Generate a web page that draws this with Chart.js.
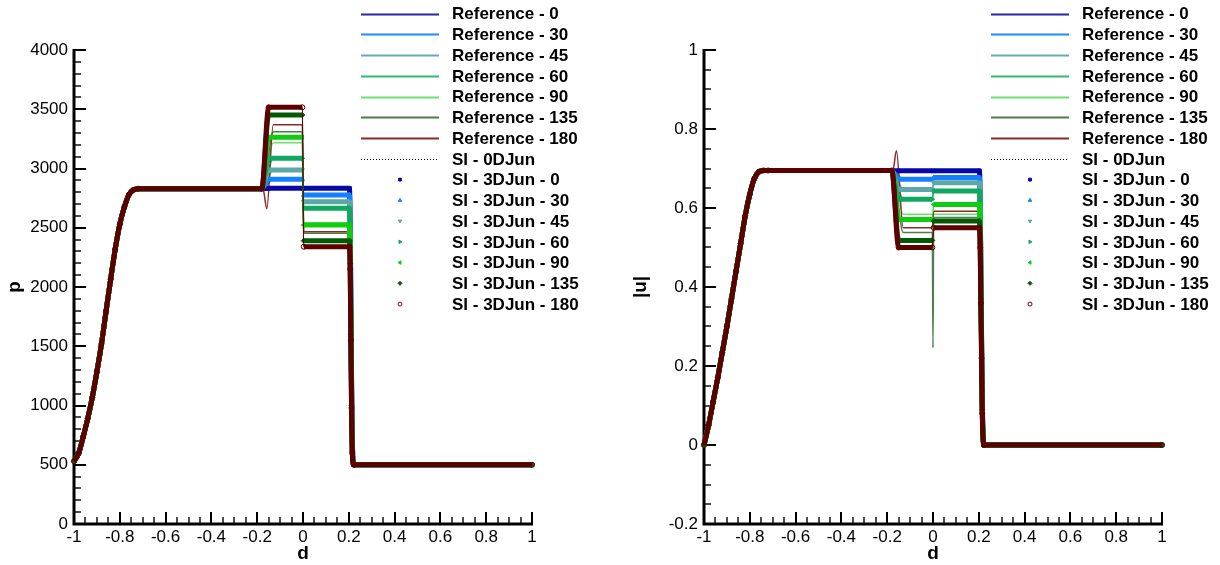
<!DOCTYPE html>
<html>
<head>
<meta charset="utf-8">
<script src="https://cdn.jsdelivr.net/npm/chart.js@4/dist/chart.umd.min.js"></script>
<style>
  html, body { margin: 0; padding: 0; background: #fff; }
  #wrap { position: relative; width: 1220px; height: 565px; }
  canvas { position: absolute; top: 0; }
</style>
</head>
<body>
<div id="wrap">
  <canvas id="chartP" width="610" height="565" style="left:0"></canvas>
  <canvas id="chartU" width="610" height="565" style="left:610px"></canvas>
</div>
<script>
const angles = ['0', '30', '45', '60', '90', '135', '180'];

// rarefaction ramp shared by every run
const rampD = [-1, -0.98, -0.96, -0.94, -0.92, -0.9, -0.88, -0.86, -0.84, -0.82, -0.8, -0.78, -0.76, -0.74, -0.72];
const rampP = [530, 595, 735, 890, 1070, 1285, 1520, 1795, 2065, 2320, 2530, 2675, 2780, 2820, 2830];
const rampU = [0, 0.05, 0.11, 0.17, 0.235, 0.3, 0.37, 0.44, 0.51, 0.58, 0.635, 0.675, 0.692, 0.695, 0.695];

// left / right states
const stateP = [2830, 500];
const stateU = [0.695, 0];

// step geometry: plateau end, level A start, A end, B start, B end
const siStepD = [-0.18, -0.15, -0.003, 0.003, 0.203];
const refStepD = [-0.175, -0.13, -0.003, 0.003, 0.195];
const dropD = [0.206, 0.209, 0.212, 0.215];
const tailD = [0.222, 1];

// SI - 3DJun levels (A: -0.15 < d < 0, B: 0 < d < 0.2)
const siP_A = [2833, 2909, 2987, 3086, 3263, 3451, 3516];
const siP_B = [2833, 2776, 2720, 2664, 2523, 2391, 2340];
const siU_A = [0.694, 0.673, 0.647, 0.622, 0.571, 0.518, 0.5];
const siU_B = [0.694, 0.677, 0.664, 0.643, 0.609, 0.567, 0.55];

// reference levels
const refP_A = [2833, 2909, 2987, 3086, 3218, 3310, 3370];
const refP_B = [2833, 2776, 2720, 2664, 2543, 2453, 2467];
const refU_A = [0.694, 0.673, 0.647, 0.622, 0.584, 0.538, 0.55];
const refU_B = [0.694, 0.677, 0.664, 0.643, 0.584, 0.576, 0.592];

// points along the smeared shock
const siP_drop = [
  [2550, 1900, 1250, 750], [2500, 1850, 1200, 720], [2450, 1800, 1150, 700], [2400, 1750, 1100, 680],
  [2300, 1650, 1050, 650], [2200, 1600, 1000, 620], [2150, 1550, 980, 600]
];
const siU_drop = [
  [0.62, 0.45, 0.28, 0.12], [0.61, 0.44, 0.27, 0.11], [0.6, 0.43, 0.27, 0.11], [0.58, 0.42, 0.26, 0.1],
  [0.55, 0.4, 0.25, 0.1], [0.51, 0.37, 0.23, 0.09], [0.5, 0.36, 0.22, 0.08]
];

// odd features of the reference curves
const ref180P_dip = [[-0.158, 2660]];
const ref180U_bump = [[-0.16, 0.745]];
const ref135U_spike = [[0, 0.246]];

const refColors = ['#2626a6', '#1e8cff', '#66adad', '#36b86a', '#6ee06e', '#4d7d4d', '#8a2a2a'];
const siColors = ['#0808a8', '#1480ff', '#5aa8a8', '#10a860', '#10cc10', '#045a04', '#5c0000'];
const siStyles = ['rect', 'triangle', 'triangle', 'triangle', 'triangle', 'rectRot', 'circle'];
const siRot = [0, 0, 180, 90, 270, 0, 0];

Chart.defaults.font.family = '"Liberation Sans", Arial, Helvetica, sans-serif';
Chart.defaults.font.size = 17;
Chart.defaults.color = '#000';

function series(rampY, state, stepD, a, b, drop, extra) {
  const pts = rampD.map((d, i) => ({ x: d, y: rampY[i] }));
  const stepY = [state[0], a, a, b, b];
  stepD.forEach((d, i) => pts.push({ x: d, y: stepY[i] }));
  if (drop) dropD.forEach((d, i) => pts.push({ x: d, y: drop[i] }));
  tailD.forEach(d => pts.push({ x: d, y: state[1] }));
  if (extra) extra.forEach(([x, y]) => pts.push({ x, y }));
  return pts.sort((p, q) => p.x - q.x);
}

// the jump at d = 0 is a single cell: keep it hairline, not a thick bar
const siSegmentWidth = c => (c.p1.parsed.x - c.p0.parsed.x < 0.01 && c.p0.parsed.x < 0.1) ? 1 : 5;

function buildDatasets(rampY, state, refA, refB, siA, siB, siDrop, refExtra) {
  const sets = [];
  angles.forEach((ang, i) => {
    sets.push({
      label: 'Reference - ' + ang, kind: 'ref',
      data: series(rampY, state, refStepD, refA[i], refB[i], null, refExtra[i]),
      borderColor: refColors[i], borderWidth: 1.5, pointRadius: 0
    });
  });
  sets.push({
    label: 'SI - 0DJun', kind: 'dot',
    data: series(rampY, state, refStepD, refA[0], refB[0], null, null),
    borderColor: '#000', borderWidth: 1, borderDash: [1, 2], pointRadius: 0
  });
  angles.forEach((ang, i) => {
    sets.push({
      label: 'SI - 3DJun - ' + ang, kind: 'si',
      data: series(rampY, state, siStepD, siA[i], siB[i], siDrop[i], null),
      borderColor: siColors[i], borderWidth: 5,
      segment: { borderWidth: siSegmentWidth },
      pointStyle: siStyles[i], pointRotation: siRot[i], pointRadius: 2.5, pointBorderWidth: 1,
      pointBorderColor: siColors[i],
      pointBackgroundColor: siStyles[i] === 'circle' ? 'rgba(0,0,0,0)' : siColors[i]
    });
  });
  const n = sets.length;
  sets.forEach((s, i) => {
    s.order = n - i;
    s.cubicInterpolationMode = 'monotone';
    s.fill = false;
    s.clip = 6;
  });
  return sets;
}

const fmt = v => String(+Number(v).toFixed(2));

// inward ticks and the two axis lines
const axisPlugin = {
  id: 'tecAxes',
  beforeDatasetsDraw(chart, args, opts) {
    const { ctx, chartArea: a, scales: { x, y } } = chart;
    ctx.save();
    ctx.strokeStyle = '#000';
    for (let i = 0; i <= 40; i++) {
      const px = Math.round(x.getPixelForValue(-1 + i * 0.05));
      const major = i % 4 === 0;
      ctx.lineWidth = major ? 2 : 1.4;
      ctx.beginPath();
      ctx.moveTo(px, a.bottom);
      ctx.lineTo(px, a.bottom - (major ? 12 : 7));
      ctx.stroke();
    }
    const n = Math.round((y.max - y.min) / opts.minor);
    for (let i = 0; i <= n; i++) {
      const py = Math.round(y.getPixelForValue(y.min + i * opts.minor));
      const major = i % opts.per === 0;
      ctx.lineWidth = major ? 2 : 1.4;
      ctx.beginPath();
      ctx.moveTo(a.left, py);
      ctx.lineTo(a.left + (major ? 12 : 7), py);
      ctx.stroke();
    }
    ctx.lineWidth = 3;
    ctx.beginPath();
    ctx.moveTo(a.left, a.top - 1);
    ctx.lineTo(a.left, a.bottom);
    ctx.lineTo(a.right + 1, a.bottom);
    ctx.stroke();
    ctx.restore();
  }
};

// legend drawn over the plot, top right
const legendPlugin = {
  id: 'tecLegend',
  afterDraw(chart) {
    const { ctx, chartArea: a } = chart;
    const x0 = a.left + 287, x1 = a.left + 365, tx = a.left + 378;
    ctx.save();
    chart.data.datasets.forEach((ds, i) => {
      const yy = 13.7 + i * 20.74;
      if (ds.kind === 'si') {
        ctx.strokeStyle = ds.pointBorderColor;
        ctx.fillStyle = ds.pointBackgroundColor;
        Chart.helpers.drawPoint(ctx, { pointStyle: ds.pointStyle, rotation: ds.pointRotation, radius: 2, borderWidth: 1 }, (x0 + x1) / 2, yy);
      } else {
        ctx.strokeStyle = ds.borderColor;
        ctx.lineWidth = ds.kind === 'dot' ? 1 : 2;
        ctx.setLineDash(ds.kind === 'dot' ? [1, 2] : []);
        ctx.beginPath();
        ctx.moveTo(x0, Math.round(yy) + 0.5);
        ctx.lineTo(x1, Math.round(yy) + 0.5);
        ctx.stroke();
        ctx.setLineDash([]);
      }
      ctx.fillStyle = '#000';
      ctx.font = 'bold 17px "Liberation Sans", Arial, sans-serif';
      ctx.textAlign = 'left';
      ctx.textBaseline = 'middle';
      ctx.fillText(ds.label, tx, yy + 1);
    });
    ctx.restore();
  }
};

function makeChart(id, datasets, yCfg) {
  return new Chart(document.getElementById(id), {
    type: 'line',
    data: { datasets },
    plugins: [axisPlugin, legendPlugin],
    options: {
      responsive: false,
      animation: false,
      devicePixelRatio: 1,
      layout: { padding: { top: 50, right: yCfg.padRight, left: 0, bottom: 0 } },
      plugins: {
        legend: { display: false },
        tooltip: { enabled: false },
        tecAxes: { minor: yCfg.minor, per: yCfg.per }
      },
      scales: {
        x: {
          type: 'linear', min: -1, max: 1,
          grid: { display: false, drawTicks: false },
          border: { display: false },
          ticks: { stepSize: 0.2, padding: 3, maxRotation: 0, autoSkip: false, callback: fmt },
          title: { display: true, text: 'd', font: { size: 19, weight: 'bold' }, padding: 0 },
          afterFit: s => { s.height = 41; }
        },
        y: {
          type: 'linear', min: yCfg.min, max: yCfg.max,
          grid: { display: false, drawTicks: false },
          border: { display: false },
          ticks: { stepSize: yCfg.step, padding: 6, autoSkip: false, callback: fmt },
          title: { display: true, text: yCfg.title, font: { size: 19, weight: 'bold' }, padding: { top: yCfg.titlePad, bottom: 0 } },
          afterFit: s => { s.width = yCfg.axisWidth; }
        }
      }
    }
  });
}

const pSets = buildDatasets(rampP, stateP, refP_A, refP_B, siP_A, siP_B, siP_drop,
  [null, null, null, null, null, null, ref180P_dip]);
const uSets = buildDatasets(rampU, stateU, refU_A, refU_B, siU_A, siU_B, siU_drop,
  [null, null, null, null, null, ref135U_spike, ref180U_bump]);

makeChart('chartP', pSets, { min: 0, max: 4000, step: 500, minor: 100, per: 5, title: 'p', titlePad: 3, axisWidth: 74, padRight: 78 });
makeChart('chartU', uSets, { min: -0.2, max: 1, step: 0.2, minor: 0.05, per: 4, title: '|u|', titlePad: 19, axisWidth: 94, padRight: 58 });
</script>
</body>
</html>
